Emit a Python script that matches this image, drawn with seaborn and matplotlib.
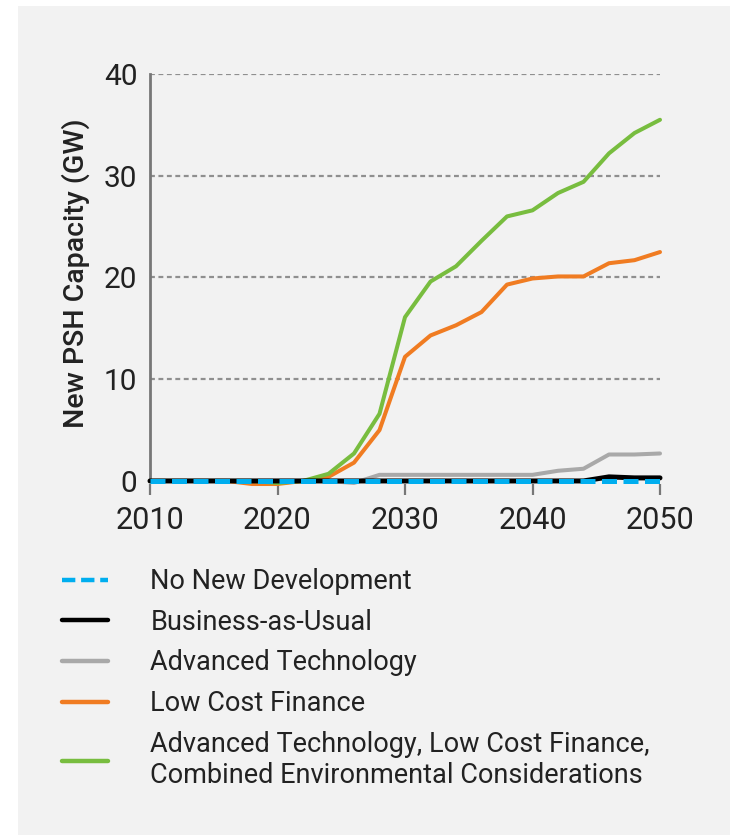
import matplotlib
matplotlib.use("Agg")
import matplotlib.pyplot as plt
from matplotlib.lines import Line2D
from matplotlib.patches import Rectangle
import seaborn as sns
import pandas as pd

# ==========================================
# Data (GW)
# ==========================================
years = list(range(2010, 2051, 2))

no_new_dev = [0.0] * 21
business_as_usual = [0.0, 0.0, 0.0, 0.0, 0.0, 0.0, 0.0, 0.0, 0.0, 0.0, 0.0,
                     0.0, 0.0, 0.0, 0.0, 0.0, 0.0, 0.0, 0.4, 0.3, 0.3]
advanced_tech = [0.0, 0.0, 0.0, 0.0, 0.0, 0.0, 0.0, 0.0, -0.2, 0.6, 0.6,
                 0.6, 0.6, 0.6, 0.6, 0.6, 1.0, 1.2, 2.6, 2.6, 2.7]
low_cost_finance = [0.0, 0.0, 0.0, 0.0, -0.3, -0.3, 0.0, 0.4, 1.8, 5.0, 12.2,
                    14.3, 15.3, 16.6, 19.3, 19.9, 20.1, 20.1, 21.4, 21.7, 22.5]
combined = [0.0, 0.0, 0.0, 0.0, 0.0, -0.2, 0.0, 0.7, 2.7, 6.6, 16.1,
            19.6, 21.1, 23.6, 26.0, 26.6, 28.3, 29.4, 32.2, 34.2, 35.5]

scenario_labels = [
    "No New Development",
    "Business-as-Usual",
    "Advanced Technology",
    "Low Cost Finance",
    "Advanced Technology, Low Cost Finance,\nCombined Environmental Considerations",
]
scenario_colors = ["#00aeef", "#000000", "#a9a9a9", "#f07c22", "#78bd3f"]

x_ticks = [2010, 2020, 2030, 2040, 2050]
y_ticks = [0, 10, 20, 30, 40]

# ==========================================
# Style
# ==========================================
sns.set_style("white")
plt.rcParams["font.family"] = ["Roboto", "DejaVu Sans"]
text_color = "#222222"
grid_color = "#8f8f8f"

fig = plt.figure(figsize=(7.3, 8.35), dpi=100)
fig.patch.set_facecolor("white")
fig.patches.append(Rectangle((18 / 730, 0), 1 - 18 / 730, 1 - 6 / 835,
                             transform=fig.transFigure, facecolor="#f2f2f2",
                             edgecolor="none", zorder=-10))

ax = fig.add_axes([150 / 730, (835 - 484) / 835, 510 / 730, (484 - 74) / 835])
ax.set_facecolor("none")

# grid lines at 10..40
for yv in y_ticks[1:]:
    ax.axhline(yv, color=grid_color, lw=1.6, ls=(0, (2.2, 1.6)), zorder=1)

series = [no_new_dev, business_as_usual, advanced_tech, low_cost_finance, combined]
zorders = [7, 6, 3, 4, 5]
for vals, color, z, lab in zip(series, scenario_colors, zorders, scenario_labels):
    df = pd.DataFrame({"year": years, "gw": vals})
    if lab == "No New Development":
        sns.lineplot(data=df, x="year", y="gw", color=color, lw=3.6,
                     linestyle=(0, (3.0, 1.3)), ax=ax, zorder=z, clip_on=False)
    else:
        lw = 3.6 if color == "#000000" else 2.9
        sns.lineplot(data=df, x="year", y="gw", color=color, lw=lw,
                     ax=ax, zorder=z, clip_on=False)

ax.set_xlim(2010, 2050)
ax.set_ylim(-0.3, 40)
ax.set_xticks(x_ticks)
ax.set_yticks(y_ticks)
ax.tick_params(axis="x", bottom=True, direction="out", length=8, width=1.6,
               color="#777777", labelsize=22, labelcolor=text_color, pad=8)
ax.tick_params(axis="y", left=False, length=0, labelsize=21.5,
               labelcolor=text_color, pad=9)
for s in ["top", "right", "bottom"]:
    ax.spines[s].set_visible(False)
ax.spines["left"].set_color("#777777")
ax.spines["left"].set_linewidth(2)
ax.spines["left"].set_bounds(0, 40)
ax.set_xlabel("")
ax.set_ylabel("New PSH Capacity (GW)", fontsize=20.5, fontweight="medium",
              color=text_color)
ax.yaxis.set_label_coords(-0.118, 0.515)

# ==========================================
# Legend below the chart
# ==========================================
handles = []
for lab, color in zip(scenario_labels, scenario_colors):
    if lab == "No New Development":
        handles.append(Line2D([], [], color=color, lw=3.2, ls=(0, (3.0, 1.3))))
    else:
        handles.append(Line2D([], [], color=color, lw=3.2))
fig.legend(handles, scenario_labels, loc="upper left",
           bbox_to_anchor=(38 / 730, 1 - 544 / 835), frameon=False,
           fontsize=19.5, labelcolor=text_color, handlelength=1.7,
           handletextpad=1.55, labelspacing=0.5)

plt.savefig("out.png", dpi=100)
plt.close()
